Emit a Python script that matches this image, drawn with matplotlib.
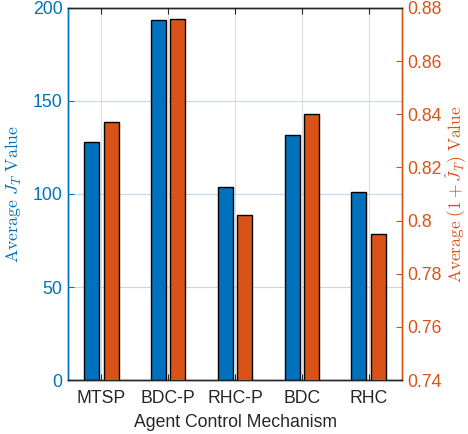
import matplotlib
matplotlib.use("Agg")
import matplotlib.pyplot as plt
import numpy as np
from matplotlib.ticker import FuncFormatter

plt.rcParams['font.family'] = ['Liberation Sans', 'DejaVu Sans']
plt.rcParams['mathtext.fontset'] = 'cm'

categories = ['MTSP', 'BDC-P', 'RHC-P', 'BDC', 'RHC']
avg_jt = [127.8, 193.6, 103.6, 131.7, 101.0]
avg_one_plus_jhat = [0.837, 0.876, 0.802, 0.840, 0.795]

blue = (0.0, 0.447, 0.741)
orange = (0.851, 0.325, 0.098)
dark = (0.15, 0.15, 0.15)

fig = plt.figure(figsize=(4.68, 4.34), dpi=100)
ax = fig.add_axes([0.1453, 0.1244, 0.7137, 0.8572])
ax2 = ax.twinx()

x = np.arange(len(categories))
w = 0.225
off = 0.145

ax.bar(x - off, avg_jt, width=w, color=blue, edgecolor='black', linewidth=1.0, zorder=3)
ax2.bar(x + off, avg_one_plus_jhat, width=w, color=orange, edgecolor='black', linewidth=1.0, zorder=3)

ax.set_xlim(-0.5, len(categories) - 0.5)
ax.set_ylim(0, 200)
ax2.set_ylim(0.74, 0.88)

ax.set_xticks(x)
ax.set_xticklabels(categories, fontsize=12.7, color=dark)
ax.set_yticks([0, 50, 100, 150, 200])
ax2.set_yticks(np.arange(0.74, 0.8801, 0.02))
ax2.yaxis.set_major_formatter(FuncFormatter(lambda v, p: f"{v:.2f}".rstrip('0').rstrip('.')))

ax.tick_params(axis='x', direction='in', length=4, top=True, colors=dark, labelcolor=dark, pad=7)
ax.tick_params(axis='y', direction='in', length=4, colors=blue, labelcolor=blue, labelsize=12.7, pad=4)
ax2.tick_params(axis='y', direction='in', length=4, colors=orange, labelcolor=orange, labelsize=12.7, pad=4)
ax2.tick_params(axis='x', top=False)

ax.grid(axis='y', color=(0.75, 0.85, 0.93), linewidth=0.8, zorder=0)
ax.grid(axis='x', color=(0.87, 0.87, 0.87), linewidth=0.8, zorder=0)
ax.set_axisbelow(True)

for a in (ax, ax2):
    a.spines['top'].set_color(dark)
    a.spines['bottom'].set_color(dark)
    a.spines['left'].set_color(blue)
    a.spines['right'].set_color(orange)
    for s in a.spines.values():
        s.set_linewidth(1.0)

ax.set_xlabel('Agent Control Mechanism', fontsize=12.7, color=dark, labelpad=5)
ax.set_ylabel(r'$\mathrm{Average}\ J_T\ \mathrm{Value}$', fontsize=12.8, color=blue, labelpad=6)
ax2.set_ylabel(r'$\mathrm{Average}\ (1+\hat{J}_T)\ \mathrm{Value}$', fontsize=12.5, color=orange, labelpad=1)

fig.savefig('out.png', dpi=100)
